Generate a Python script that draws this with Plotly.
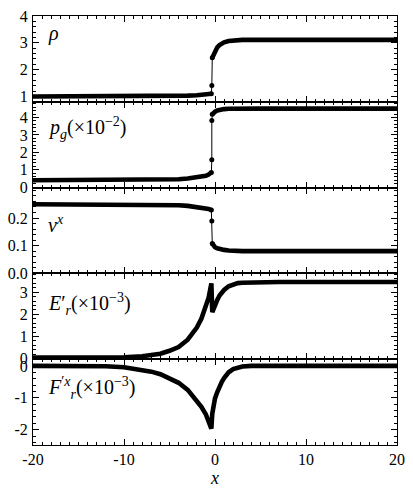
import plotly.graph_objects as go
from plotly.subplots import make_subplots

# ---------------- data ----------------
x_left = [-20, -15, -12, -10, -8, -7, -6, -5, -4, -3, -2, -1.5, -1, -0.7, -0.4]
x_right = [-0.3, -0.15, 0, 0.25, 0.5, 0.75, 1, 1.5, 2, 2.5, 3, 4, 5, 7, 10, 15, 20]

rho_left = [1.0, 1.0, 1.0, 1.0, 1.0, 1.005, 1.01, 1.015, 1.02, 1.03, 1.045, 1.055, 1.07, 1.085, 1.1]
rho_jump_x = [-0.35]
rho_jump = [1.41]
rho_right = [2.44, 2.58, 2.7, 2.83, 2.92, 2.98, 3.02, 3.07, 3.09, 3.1, 3.11, 3.11, 3.11, 3.11, 3.11, 3.11, 3.11]

pg_left = [0.40, 0.40, 0.40, 0.40, 0.40, 0.41, 0.42, 0.44, 0.46, 0.50, 0.56, 0.60, 0.66, 0.73, 0.85]
pg_jump_x = [-0.35, -0.35]
pg_jump = [1.57, 3.83]
pg_right = [4.18, 4.27, 4.33, 4.40, 4.44, 4.47, 4.48, 4.50, 4.51, 4.51, 4.51, 4.51, 4.51, 4.51, 4.51, 4.51, 4.51]

v_left = [0.25, 0.25, 0.25, 0.25, 0.2495, 0.249, 0.248, 0.247, 0.246, 0.244, 0.241, 0.239, 0.236, 0.233, 0.229]
v_jump_x = [-0.35]
v_jump = [0.189]
v_right = [0.108, 0.100, 0.095, 0.091, 0.088, 0.086, 0.085, 0.083, 0.0815, 0.081, 0.0805, 0.0804, 0.0804, 0.0804, 0.0804, 0.0804, 0.0804]

E_left = [0.04, 0.04, 0.05, 0.06, 0.1, 0.15, 0.22, 0.35, 0.52, 0.85, 1.4, 1.8, 2.35, 2.75, 3.4]
E_right = [2.1, 2.25, 2.45, 2.65, 2.85, 3.0, 3.1, 3.27, 3.36, 3.41, 3.43, 3.45, 3.46, 3.46, 3.46, 3.46, 3.46]

F_left = [0.0, 0.0, -0.01, -0.04, -0.11, -0.18, -0.26, -0.38, -0.53, -0.75, -1.07, -1.28, -1.52, -1.73, -1.97]
F_right = [-1.5, -1.2, -1.02, -0.82, -0.64, -0.5, -0.38, -0.2, -0.1, -0.05, -0.02, 0.0, 0.0, 0.0, 0.0, 0.0, 0.0]

x_ticks = [-20, -10, 0, 10, 20]
x_tick_text = ["-20", "-10", "0", "10", "20"]

labels = [
    "<i>ρ</i>",
    "<i>p<sub>g</sub></i>(×10<sup>−2</sup>)",
    "<i>v<sup>x</sup></i>",
    "<i>E</i>′<sub><i>r</i></sub>(×10<sup>−3</sup>)",
    "<i>F</i><sup>′<i>x</i></sup><sub><i>r</i></sub>(×10<sup>−3</sup>)",
]
label_y = [0.80, 0.69, 0.58, 0.64, 0.66]

y_ranges = [[0.8, 4.0], [-0.02, 4.9], [0.0, 0.31], [-0.03, 3.85], [-2.48, 0.21]]
y_tickvals = [[1, 2, 3, 4], [0, 1, 2, 3, 4], [0, 0.1, 0.2], [0, 1, 2, 3], [-2, -1, 0]]
y_ticktext = [["1", "2", "3", "4"], ["0", "1", "2", "3", "4"], ["0.0", "0.1", "0.2"],
              ["0", "1", "2", "3"], ["-2", "-1", "0"]]
y_minor = [0.2, 0.2, 0.02, 0.2, 0.2]

# ---------------- figure ----------------
fig = make_subplots(rows=5, cols=1, shared_xaxes=True, vertical_spacing=0)

black = "black"
thick = 4.6
serif = "Liberation Serif"

discontinuous = [
    (rho_left, rho_jump_x, rho_jump, rho_right),
    (pg_left, pg_jump_x, pg_jump, pg_right),
    (v_left, v_jump_x, v_jump, v_right),
]
for i, (yl, jx, jy, yr) in enumerate(discontinuous):
    row = i + 1
    fig.add_trace(go.Scatter(x=x_left, y=yl, mode="lines",
                             line=dict(color=black, width=thick), showlegend=False), row=row, col=1)
    fig.add_trace(go.Scatter(x=x_right, y=yr, mode="lines",
                             line=dict(color=black, width=thick), showlegend=False), row=row, col=1)
    cx = [x_left[-1]] + jx + [x_right[0]]
    cy = [yl[-1]] + jy + [yr[0]]
    fig.add_trace(go.Scatter(x=cx, y=cy, mode="lines+markers",
                             line=dict(color=black, width=1),
                             marker=dict(color=black, size=5), showlegend=False), row=row, col=1)

for i, (yl, yr) in enumerate([(E_left, E_right), (F_left, F_right)]):
    row = i + 4
    fig.add_trace(go.Scatter(x=x_left + x_right, y=yl + yr, mode="lines",
                             line=dict(color=black, width=thick), showlegend=False), row=row, col=1)

tick_font = dict(family=serif, size=16, color="black")

for r in range(1, 6):
    fig.update_xaxes(row=r, col=1, range=[-20, 20], showline=True, mirror="ticks",
                     linecolor=black, linewidth=1, ticks="inside", ticklen=6, tickcolor=black,
                     tickvals=x_ticks, ticktext=x_tick_text, showgrid=False, zeroline=False,
                     minor=dict(ticks="inside", ticklen=3, dtick=1, tick0=0, tickcolor=black, showgrid=False),
                     tickfont=tick_font, showticklabels=(r == 5))
    fig.update_yaxes(row=r, col=1, range=y_ranges[r - 1], showline=True, mirror="ticks",
                     linecolor=black, linewidth=1, ticks="inside", ticklen=6, tickcolor=black,
                     tickvals=y_tickvals[r - 1], ticktext=y_ticktext[r - 1],
                     showgrid=False, zeroline=False,
                     minor=dict(ticks="inside", ticklen=3, dtick=y_minor[r - 1], tick0=0,
                                tickcolor=black, showgrid=False),
                     tickfont=tick_font, ticklabelstandoff=1)

fig.update_xaxes(row=5, col=1, title=dict(text="<i>x</i>", standoff=2,
                                          font=dict(family=serif, size=18, color="black")))

for r in range(1, 6):
    suffix = "" if r == 1 else str(r)
    fig.add_annotation(text=labels[r - 1], xref=f"x{suffix} domain", yref=f"y{suffix} domain",
                       x=0.035, y=label_y[r - 1], xanchor="left", yanchor="middle", showarrow=False,
                       font=dict(family=serif, size=20, color="black"))

fig.update_layout(width=413, height=491, margin=dict(l=29, r=9, t=8, b=32),
                  plot_bgcolor="white", paper_bgcolor="white",
                  font=dict(family=serif, color="black"))

# remove the page's default body margin so the figure fills the window exactly
fig.write_html("out.html", config={"displayModeBar": False},
               post_script="document.body.style.margin='0';document.body.style.overflow='hidden';")
